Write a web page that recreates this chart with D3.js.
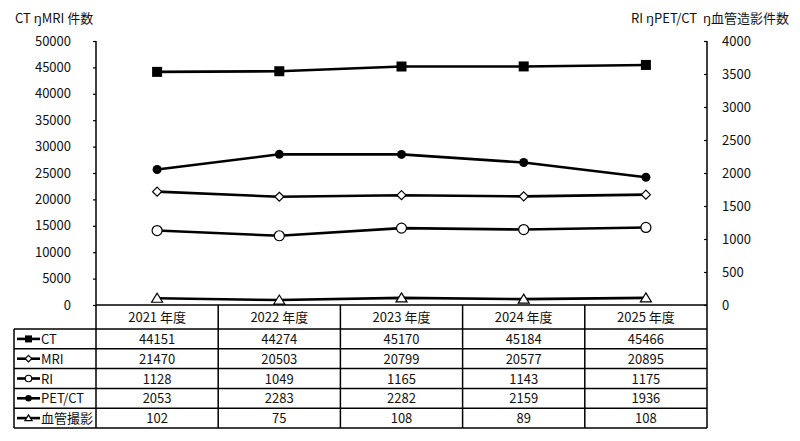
<!DOCTYPE html>
<html>
<head>
<meta charset="utf-8">
<script src="https://cdn.jsdelivr.net/npm/d3@7"></script>
<style>
  body { margin: 0; background: #fff; }
  text { font-family: "Noto Sans CJK JP", "Noto Sans", sans-serif; fill: #111; }
</style>
</head>
<body>
<svg></svg>
<script>
let years = ['2021 年度', '2022 年度', '2023 年度', '2024 年度', '2025 年度']
let ctValues = [44151, 44274, 45170, 45184, 45466]
let mriValues = [21470, 20503, 20799, 20577, 20895]
let riValues = [1128, 1049, 1165, 1143, 1175]
let petValues = [2053, 2283, 2282, 2159, 1936]
let angioValues = [102, 75, 108, 89, 108]
let leftTicks = [0, 5000, 10000, 15000, 20000, 25000, 30000, 35000, 40000, 45000, 50000]
let rightTicks = [0, 500, 1000, 1500, 2000, 2500, 3000, 3500, 4000]

let width = 800
let height = 441

let plotLeft = 96
let plotRight = 707
let plotTop = 41
let plotBottom = 305
let tableLeft = 14
let headerBottom = 329
let rowHeight = 19.8

let series = [
    {name: 'CT', values: ctValues, axis: 'left', marker: 'square'},
    {name: 'MRI', values: mriValues, axis: 'left', marker: 'diamond'},
    {name: 'RI', values: riValues, axis: 'right', marker: 'circleOpen'},
    {name: 'PET/CT', values: petValues, axis: 'right', marker: 'circleFilled'},
    {name: '血管撮影', values: angioValues, axis: 'right', marker: 'triangle'}
]

let svg = d3.select('svg').attr('width', width).attr('height', height)

let xScale = d3.scaleBand().domain(years).range([plotLeft, plotRight])
let yLeft = d3.scaleLinear().domain([0, 50000]).range([plotBottom, plotTop])
let yRight = d3.scaleLinear().domain([0, 4000]).range([plotBottom, plotTop])

// axes
let leftAxis = d3.axisLeft(yLeft).tickValues(leftTicks).tickSize(3).tickFormat(d3.format('d'))
let gl = svg.append('g').attr('transform', `translate(${plotLeft},0)`).call(leftAxis)
gl.select('.domain').attr('d', `M0,${plotTop}V${plotBottom}`).attr('stroke', '#000').attr('stroke-width', 1.5)
gl.selectAll('.tick line').attr('stroke', '#000').attr('stroke-width', 1.2)
gl.selectAll('.tick text').attr('x', -25).attr('font-size', 13).style('font-family', '"Noto Sans CJK JP", sans-serif')

let rightAxis = d3.axisRight(yRight).tickValues(rightTicks).tickSize(-3).tickFormat(d3.format('d'))
let gr = svg.append('g').attr('transform', `translate(${plotRight},0)`).call(rightAxis)
gr.select('.domain').attr('d', `M0,${plotTop}V${plotBottom}`).attr('stroke', '#000').attr('stroke-width', 1.5)
gr.selectAll('.tick line').attr('stroke', '#000').attr('stroke-width', 1.2)
gr.selectAll('.tick text').attr('x', 15).attr('font-size', 13).style('font-family', '"Noto Sans CJK JP", sans-serif')

// axis titles
svg.append('text').attr('x', 15).attr('y', 23).attr('font-size', 13).text('CT ŋMRI 件数')
svg.append('text').attr('x', 789).attr('y', 23).attr('font-size', 13).attr('text-anchor', 'end')
    .attr('xml:space', 'preserve').text('RI ŋPET/CT  ŋ血管造影件数')

const drawMarker = (g, type, x, y, size) => {
    if (type === 'square') {
        g.append('rect').attr('x', x - size / 2).attr('y', y - size / 2)
            .attr('width', size).attr('height', size).attr('fill', '#000')
    } else if (type === 'diamond') {
        let s = size / 2
        g.append('path').attr('d', `M${x},${y - s}L${x + s},${y}L${x},${y + s}L${x - s},${y}Z`)
            .attr('fill', '#fff').attr('stroke', '#000').attr('stroke-width', 1.2)
    } else if (type === 'circleOpen') {
        g.append('circle').attr('cx', x).attr('cy', y).attr('r', size / 2)
            .attr('fill', '#fff').attr('stroke', '#000').attr('stroke-width', 1.2)
    } else if (type === 'circleFilled') {
        g.append('circle').attr('cx', x).attr('cy', y).attr('r', size / 2).attr('fill', '#000')
    } else if (type === 'triangle') {
        let s = size / 2
        g.append('path').attr('d', `M${x},${y - s}L${x + s * 1.1},${y + s * 0.8}L${x - s * 1.1},${y + s * 0.8}Z`)
            .attr('fill', '#fff').attr('stroke', '#000').attr('stroke-width', 1.2)
    }
}

let markerSize = {square: 10, diamond: 9, circleOpen: 10, circleFilled: 9, triangle: 10}

// lines
series.forEach(s => {
    let yScale = s.axis === 'left' ? yLeft : yRight
    let line = d3.line()
        .x((d, i) => xScale(years[i]) + xScale.bandwidth() / 2)
        .y(d => yScale(d))
    let g = svg.append('g')
    g.append('path').datum(s.values).attr('d', line)
        .attr('fill', 'none').attr('stroke', '#000').attr('stroke-width', 2.6)
    s.values.forEach((v, i) => {
        drawMarker(g, s.marker, xScale(years[i]) + xScale.bandwidth() / 2, yScale(v), markerSize[s.marker])
    })
})

// data table
let table = svg.append('g')
let tableBottom = headerBottom + rowHeight * series.length
let lineAttr = sel => sel.attr('stroke', '#000').attr('stroke-width', 1.5)

table.append('line').attr('x1', plotLeft).attr('x2', plotRight).attr('y1', plotBottom).attr('y2', plotBottom).call(lineAttr)
for (let r = 0; r <= series.length; r++) {
    let y = headerBottom + r * rowHeight
    table.append('line').attr('x1', tableLeft).attr('x2', plotRight).attr('y1', y).attr('y2', y).call(lineAttr)
}
table.append('line').attr('x1', tableLeft).attr('x2', tableLeft).attr('y1', headerBottom).attr('y2', tableBottom).call(lineAttr)
years.forEach(y => {
    let x = xScale(y)
    table.append('line').attr('x1', x).attr('x2', x).attr('y1', plotBottom).attr('y2', tableBottom).call(lineAttr)
})
table.append('line').attr('x1', plotRight).attr('x2', plotRight).attr('y1', plotBottom).attr('y2', tableBottom).call(lineAttr)

years.forEach(y => {
    table.append('text').attr('x', xScale(y) + xScale.bandwidth() / 2).attr('y', (plotBottom + headerBottom) / 2 + 5)
        .attr('text-anchor', 'middle').attr('font-size', 13).text(y)
})

series.forEach((s, r) => {
    let cy = headerBottom + r * rowHeight + rowHeight / 2
    let lg = table.append('g')
    lg.append('line').attr('x1', 17).attr('x2', 40).attr('y1', cy).attr('y2', cy)
        .attr('stroke', '#000').attr('stroke-width', 2.6)
    drawMarker(lg, s.marker, 28.5, cy, s.marker === 'square' ? 7 : 6.5)
    table.append('text').attr('x', 41).attr('y', cy + 5).attr('font-size', 13).text(s.name)
    s.values.forEach((v, i) => {
        table.append('text').attr('x', xScale(years[i]) + xScale.bandwidth() / 2).attr('y', cy + 5)
            .attr('text-anchor', 'middle').attr('font-size', 13).text(v)
    })
})
</script>
</body>
</html>
